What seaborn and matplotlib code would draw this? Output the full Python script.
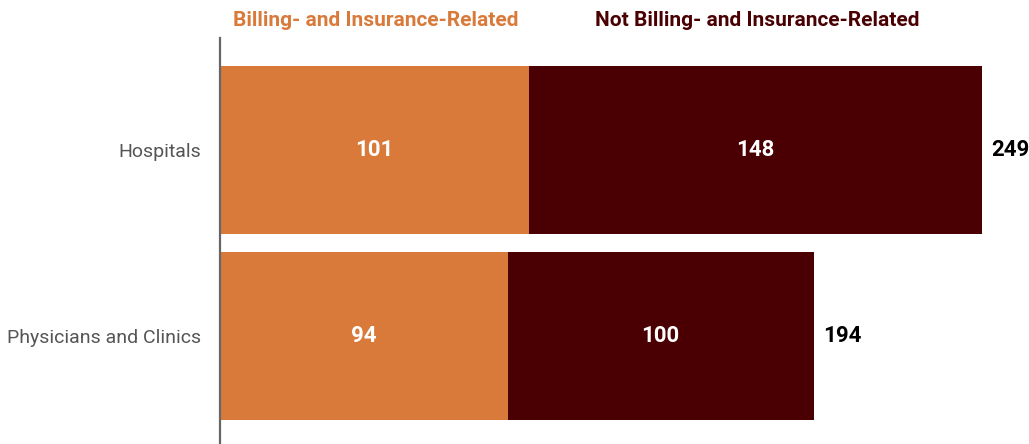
import matplotlib
matplotlib.use("Agg")
import matplotlib.pyplot as plt
import seaborn as sns
import pandas as pd

# Administrative cost components by provider type
categories = ["Hospitals", "Physicians and Clinics"]
billing_related = [101, 94]
not_billing_related = [148, 100]
series_names = ["Billing- and Insurance-Related", "Not Billing- and Insurance-Related"]

ORANGE = "#D97A3B"
MAROON = "#4A0003"

sns.set_theme(style="white")
plt.rcParams["font.family"] = ["Roboto", "DejaVu Sans"]

totals = [b + n for b, n in zip(billing_related, not_billing_related)]
df = pd.DataFrame({
    "category": categories,
    "billing": billing_related,
    "other": not_billing_related,
    "total": totals,
})

fig = plt.figure(figsize=(10.29, 4.44), dpi=100)
ax = fig.add_axes([220 / 1029, 0, 809 / 1029, 406 / 444])

# stacked bars: full total underneath, billing share on top
sns.barplot(data=df, x="total", y="category", color=MAROON, width=0.9,
            saturation=1, orient="h", linewidth=0, ax=ax)
sns.barplot(data=df, x="billing", y="category", color=ORANGE, width=0.9,
            saturation=1, orient="h", linewidth=0, ax=ax)

ax.set_xlim(0, 809 / 3.06)
ax.set_ylim(1.58, -0.602)
ax.set_xlabel("")
ax.set_ylabel("")
ax.set_xticks([])
for side in ["top", "right", "bottom"]:
    ax.spines[side].set_visible(False)
ax.spines["left"].set_color("#666666")
ax.spines["left"].set_linewidth(1.6)
ax.tick_params(axis="y", length=0, pad=13.5, labelsize=14, labelcolor="#555555")

for i, (b, o, t) in enumerate(zip(billing_related, not_billing_related, totals)):
    ax.text(b / 2, i, f"{b}", ha="center", va="center", color="white",
            fontsize=16, fontweight="bold")
    ax.text(b + o / 2, i, f"{o}", ha="center", va="center", color="white",
            fontsize=16, fontweight="bold")
    ax.text(t + 3.0, i, f"{t}", ha="left", va="center", color="black",
            fontsize=16, fontweight="bold")

fig.text(233 / 1029, 1 - 21 / 444, series_names[0], ha="left", va="center",
         color=ORANGE, fontsize=15, fontweight="bold")
fig.text(595 / 1029, 1 - 21 / 444, series_names[1], ha="left", va="center",
         color=MAROON, fontsize=15, fontweight="bold")

fig.savefig("out.png", dpi=100)
